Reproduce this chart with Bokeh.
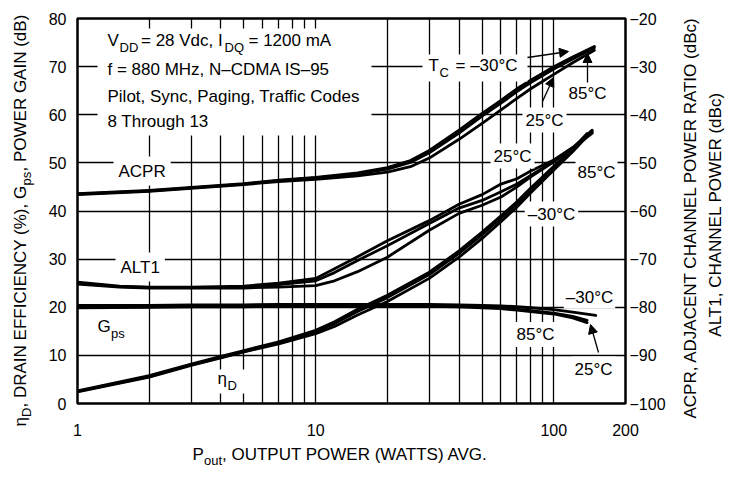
from math import pi, log10
from bokeh.plotting import figure
from bokeh.layouts import row, column
from bokeh.models import (Range1d, LinearAxis, FixedTicker, PrintfTickFormatter,
                          Label, Arrow, NormalHead, BoxAnnotation)
from bokeh.embed import file_html
from bokeh.resources import INLINE

# ---------------- data ----------------
# ACPR (dBc, right axis)
P_acpr = [1, 2, 3, 5, 7, 10, 15, 20, 25, 30, 40, 50, 60, 70, 80, 100, 120, 148]
acpr_m30 = [-56.4, -55.7, -55.1, -54.3, -53.6, -53.0, -52.1, -51.0, -49.5, -47.4, -43.2, -39.7, -37.0, -34.6, -32.8, -30.0, -28.0, -25.8]
acpr_85 = [-56.5, -55.8, -55.2, -54.4, -53.7, -53.1, -52.3, -51.3, -49.9, -47.9, -43.8, -40.3, -37.6, -35.2, -33.3, -30.5, -28.4, -26.1]
acpr_25 = [-56.6, -55.9, -55.3, -54.5, -53.9, -53.4, -52.7, -51.9, -50.8, -49.0, -45.1, -41.8, -39.0, -36.6, -34.6, -31.6, -29.2, -26.6]

# ALT1 channel power (dBc, right axis)
P_alt1 = [1, 1.5, 2, 3, 5, 7, 10, 12, 15, 20, 30, 40, 50, 60, 70, 80, 100, 120, 145]
alt1_25 = [-74.8, -75.6, -75.8, -75.8, -75.6, -75.0, -74.0, -72.0, -69.5, -66.2, -62.0, -58.6, -56.6, -54.4, -53.3, -51.7, -49.4, -46.8, -43.5]
alt1_85 = [-75.0, -75.7, -75.9, -75.9, -75.8, -75.3, -74.5, -72.8, -70.3, -67.2, -62.6, -59.4, -57.8, -56.0, -54.4, -52.6, -49.7, -47.0, -43.8]
alt1_m30 = [-75.2, -75.8, -76.0, -76.0, -76.0, -75.8, -75.5, -74.5, -72.6, -69.6, -64.0, -60.5, -58.8, -57.1, -55.0, -52.9, -49.8, -46.9, -43.2]

# Drain efficiency (%, left axis)
P_eff = [1, 2, 3, 4, 5, 7, 10, 12, 15, 20, 30, 40, 50, 60, 70, 80, 100, 120, 138]
eff_m30 = [2.6, 5.8, 8.2, 9.8, 11.0, 12.8, 15.2, 17.0, 19.6, 22.5, 27.3, 31.7, 35.6, 39.0, 41.9, 44.8, 49.3, 52.9, 56.1]
eff_25 = [2.5, 5.6, 8.0, 9.6, 10.8, 12.6, 14.9, 16.6, 19.1, 22.0, 26.8, 31.2, 35.1, 38.5, 41.5, 44.4, 49.0, 52.7, 55.9]
eff_85 = [2.4, 5.5, 7.9, 9.5, 10.7, 12.4, 14.5, 16.0, 18.4, 21.2, 26.0, 30.4, 34.3, 37.8, 40.8, 43.8, 48.5, 52.3, 55.5]

# Power gain (dB, left axis)
P_gps_a = [1, 2, 3, 5, 7, 10, 15, 20, 30, 40, 50, 60, 70, 80, 100, 120, 150]
P_gps_b = [1, 2, 3, 5, 7, 10, 15, 20, 30, 40, 50, 60, 70, 80, 100, 120, 138]
gps_m30 = [20.4, 20.4, 20.5, 20.5, 20.6, 20.6, 20.6, 20.6, 20.6, 20.5, 20.4, 20.3, 20.1, 19.9, 19.5, 19.0, 18.3]
gps_85 = [20.1, 20.2, 20.3, 20.3, 20.4, 20.4, 20.4, 20.4, 20.4, 20.3, 20.1, 19.9, 19.6, 19.3, 18.8, 18.1, 17.3]
gps_25 = [19.9, 20.0, 20.1, 20.1, 20.2, 20.2, 20.2, 20.2, 20.2, 20.1, 19.9, 19.7, 19.4, 19.1, 18.6, 17.8, 16.8]

x_ticks = [1, 10, 100, 200]
x_grid = [2, 3, 4, 5, 6, 7, 8, 9, 10, 20, 30, 40, 50, 60, 70, 80, 90, 100]
left_ticks = [0, 10, 20, 30, 40, 50, 60, 70, 80]
right_ticks = [-100, -90, -80, -70, -60, -50, -40, -30, -20]
y_grid = [10, 20, 30, 40, 50, 60, 70]

# ---------------- layout geometry (page pixels) ----------------
FONT = "Liberation Sans"
F_MAIN = "17px"
F_SUB = "13px"
F_TICK = "16px"

FL, FR, FT, FB = 77.0, 625.0, 18.0, 403.0     # plot frame edges
LEFT_W = 40                                   # strip holding the left title
MAIN_L, MAIN_R, MAIN_B = int(FL) - LEFT_W, 45, 43
MAIN_W = MAIN_L + int(FR - FL) + MAIN_R
MAIN_H = int(FT) + int(FB - FT) + MAIN_B
RIGHT_X0 = LEFT_W + MAIN_W
RIGHT_W = 58
TOTAL_W = RIGHT_X0 + RIGHT_W
BOT_H = 30
XMIN, XMAX, YMIN, YMAX = 1.0, 200.0, 0.0, 80.0


def X(px):
    return 10 ** (log10(XMIN) + (px - FL) / (FR - FL) * (log10(XMAX) - log10(XMIN)))


def Y(py):
    return YMIN + (FB - py) / (FB - FT) * (YMAX - YMIN)


def strip(x0, x1, y0, y1):
    """A blank figure whose data coordinates are page pixels."""
    f = figure(width=int(x1 - x0), height=int(y1 - y0),
               x_range=Range1d(x0, x1), y_range=Range1d(y1, y0),
               x_axis_location=None, y_axis_location=None, min_border=0,
               min_border_left=0, min_border_right=0, min_border_top=0, min_border_bottom=0,
               output_backend="svg", toolbar_location=None)
    f.outline_line_color = None
    f.background_fill_color = "white"
    f.border_fill_color = "white"
    f.grid.visible = False
    return f


p = figure(x_axis_type="log", x_range=Range1d(XMIN, XMAX), y_range=Range1d(YMIN, YMAX),
           frame_width=int(FR - FL), frame_height=int(FB - FT),
           min_border_left=MAIN_L, min_border_top=int(FT),
           min_border_right=MAIN_R, min_border_bottom=MAIN_B,
           output_backend="svg", toolbar_location=None)
p.background_fill_color = "white"
p.border_fill_color = "white"
p.outline_line_color = "black"
p.outline_line_width = 2.5
p.outline_line_alpha = 1.0

p.extra_y_ranges = {"dbc": Range1d(-100, -20)}
rax = LinearAxis(y_range_name="dbc", ticker=FixedTicker(ticks=right_ticks))
p.add_layout(rax, "right")

p.xaxis.ticker = FixedTicker(ticks=x_ticks)
p.xaxis.formatter = PrintfTickFormatter(format="%d")
p.yaxis[0].ticker = FixedTicker(ticks=left_ticks)

for ax in [p.xaxis[0], p.yaxis[0], rax]:
    ax.axis_line_color = None
    ax.major_tick_line_color = None
    ax.minor_tick_line_color = None
    ax.major_tick_out = 0
    ax.major_tick_in = 0
    ax.minor_tick_out = 0
    ax.minor_tick_in = 0
    ax.major_label_text_font = FONT
    ax.major_label_text_font_size = F_TICK
    ax.major_label_text_color = "black"
p.xaxis[0].major_label_standoff = 20
p.yaxis[0].major_label_standoff = 11
rax.major_label_standoff = 4

p.xgrid.ticker = FixedTicker(ticks=x_grid)
p.ygrid.ticker = FixedTicker(ticks=y_grid)
for g in [p.xgrid[0], p.ygrid[0]]:
    g.grid_line_color = "black"
    g.grid_line_width = 1.3
    g.grid_line_alpha = 1.0

# ---------------- curves ----------------
LW = 2.8
style = dict(color="black", line_width=LW, line_join="round", line_cap="round")
for ys in (acpr_m30, acpr_85, acpr_25):
    p.line(P_acpr, ys, y_range_name="dbc", **style)
for ys in (alt1_25, alt1_85, alt1_m30):
    p.line(P_alt1, ys, y_range_name="dbc", **style)
for ys in (eff_m30, eff_25, eff_85):
    p.line(P_eff, ys, **style)
p.line(P_gps_a, gps_m30, **style)
p.line(P_gps_b, gps_85, **style)
p.line(P_gps_b, gps_25, **style)


# ---------------- annotations inside the frame ----------------
def wbox(l, r, t, b):
    p.add_layout(BoxAnnotation(left=X(l), right=X(r), top=Y(t), bottom=Y(b),
                               fill_color="white", fill_alpha=1.0, line_alpha=0.0))


wbox(97, 371, 28, 135)      # condition block
wbox(422, 527, 54, 81)      # T_C label
wbox(213, 245, 369, 393)    # eta_D label


def put(fig, text, x, y, size=F_MAIN, align="left", angle=0.0, bg=None, pad=0):
    # (x, y) is the centre line of the capitals
    kw = dict(x=x, y=y, text=text, text_font=FONT, text_font_size=size,
              text_align=align, text_baseline="middle", angle=angle, text_color="black")
    if bg is not None:
        kw.update(background_fill_color=bg, background_fill_alpha=1.0, padding=pad)
    fig.add_layout(Label(**kw))


def lab(text, px, py, **kw):
    put(p, text, X(px), Y(py), **kw)


# condition block
lab("V", 107, 39.5)
lab("DD", 119, 46.5, size=F_SUB)
lab("= 28 Vdc, I", 140.5, 39.5)
lab("DQ", 224, 46.5, size=F_SUB)
lab("= 1200 mA", 248, 39.5)
lab("f = 880 MHz, N\u2013CDMA IS\u201395", 107, 69)
lab("Pilot, Sync, Paging, Traffic Codes", 107, 95.5)
lab("8 Through 13", 107, 120.5)

# curve names
lab("ACPR", 113, 170.5, bg="white", pad=5)
lab("ALT1", 115, 266.5, bg="white", pad=5)
lab("G", 97, 325.5)
lab("ps", 110.5, 332.5, size=F_SUB)
lab("\u03b7", 217, 378)
lab("D", 227, 384.5, size=F_SUB)

# temperature labels
lab("T", 428, 64.5)
lab("C", 439, 72, size=F_SUB)
lab("= \u201330\u00b0C", 455, 64.5)
lab("85\u00b0C", 587, 92.5, align="center", bg="white", pad=2)
lab("25\u00b0C", 544, 119.5, align="center", bg="white", pad=3)
lab("25\u00b0C", 512, 155.5, align="center", bg="white", pad=3)
lab("85\u00b0C", 596, 171.5, align="center", bg="white", pad=2)
lab("\u201330\u00b0C", 551, 213.5, align="center", bg="white", pad=3)
lab("\u201330\u00b0C", 589, 296.5, align="center", bg="white", pad=2)
lab("85\u00b0C", 535, 334, align="center", bg="white", pad=3)
lab("25\u00b0C", 593, 368.5, align="center", bg="white", pad=3)


def arrow(x0, y0, x1, y1):
    p.add_layout(Arrow(end=NormalHead(size=9, fill_color="black", line_color="black", line_width=1),
                       x_start=X(x0), y_start=Y(y0), x_end=X(x1), y_end=Y(y1),
                       line_color="black", line_width=1.3))


arrow(527, 57, 568, 51)     # T_C = -30 C -> ACPR
arrow(542, 101, 553, 77)    # 25 C -> ACPR
arrow(587, 82, 587, 53)     # 85 C -> ACPR
arrow(598, 352, 590, 324)   # 25 C -> Gps

# ---------------- axis titles in their own strips ----------------
left = strip(0, LEFT_W, 0, MAIN_H)
put(left, "\u03b7", 19.5, 426, angle=pi / 2)
put(left, "D", 25.5, 416.5, size=F_SUB, angle=pi / 2)
put(left, ", DRAIN EFFICIENCY (%), G", 19.5, 407, angle=pi / 2)
put(left, "ps", 25.5, 185, size=F_SUB, angle=pi / 2)
put(left, ", POWER GAIN (dB)", 19.5, 171, angle=pi / 2)

right = strip(RIGHT_X0, TOTAL_W, 0, MAIN_H)
put(right, "ACPR, ADJACENT CHANNEL POWER RATIO (dBc)", 689.5, 217, align="center", angle=pi / 2)
put(right, "ALT1, CHANNEL POWER (dBc)", 714.5, 214, align="center", angle=pi / 2)

bottom = strip(0, TOTAL_W, MAIN_H, MAIN_H + BOT_H)
put(bottom, "P", 192, 453.5)
put(bottom, "out", 203.5, 459.5, size=F_SUB)
put(bottom, ", OUTPUT POWER (WATTS) AVG.", 221.5, 453.5)

layout = column(row(column(left, spacing=0), p, column(right, spacing=0), spacing=0),
                bottom, spacing=0)
open("out.html", "w").write(file_html(layout, INLINE))
